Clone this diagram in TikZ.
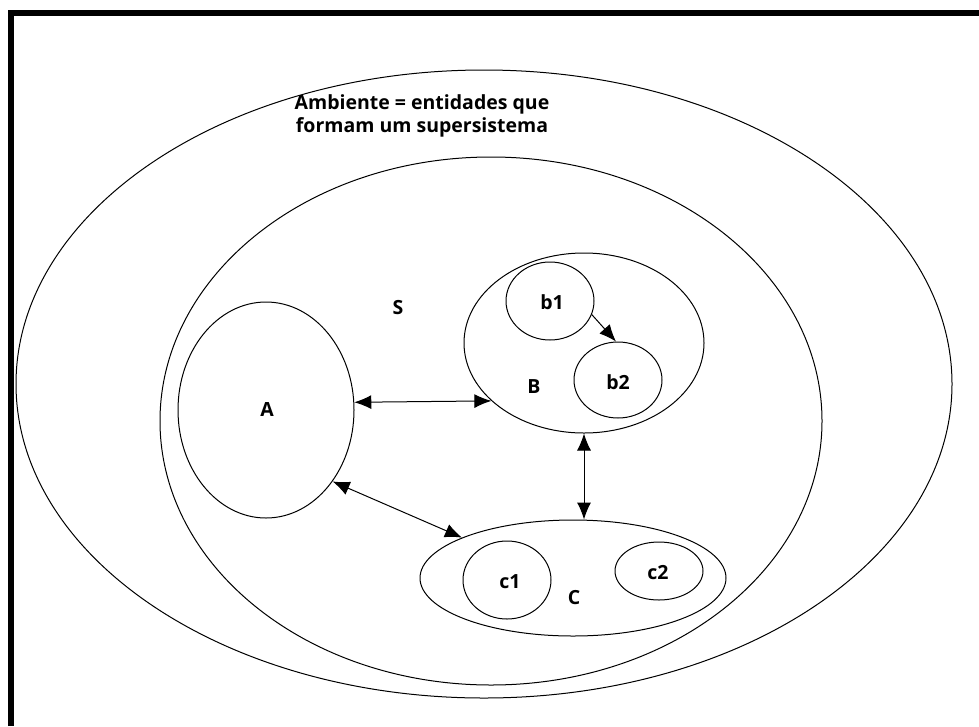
\documentclass[tikz,border=0pt]{standalone}
\usepackage{fontspec}
\setmainfont{Open Sans}
\usetikzlibrary{shapes.geometric,arrows.meta}
\begin{document}
\begin{tikzpicture}[x=1pt,y=-1pt,
  set/.style={draw, ellipse, inner sep=0pt, line width=1pt},
  lbl/.style={font=\bfseries\fontsize{19.5}{23}\selectfont, inner sep=0pt},
  link/.style={line width=1pt, {Latex[length=17pt,width=14pt]}-{Latex[length=17pt,width=14pt]}},
  flow/.style={line width=1pt, -{Latex[length=17pt,width=14pt]}}
]
\useasboundingbox (0,0) rectangle (979,726);
\fill[white] (0,0) rectangle (979,726);
% open frame: top and left edges only
\draw[line width=6pt] (11,726) -- (11,12.5) -- (979,12.5);

% environment and system
\node[set, minimum width=936pt, minimum height=628pt] (env) at (484,384) {};
\node[set, minimum width=662pt, minimum height=528pt] (S) at (491,421) {};

% subsystems
\node[set, minimum width=176pt, minimum height=216pt] (A) at (266,410) {};
\node[set, minimum width=240pt, minimum height=180pt] (B) at (584,343) {};
\node[set, minimum width=88pt, minimum height=78pt] (b1) at (550,301) {};
\node[set, minimum width=88pt, minimum height=76pt] (b2) at (618,380) {};
\node[set, minimum width=306pt, minimum height=116pt] (C) at (573,578) {};
\node[set, minimum width=88pt, minimum height=78pt] (c1) at (507,580) {};
\node[set, minimum width=88pt, minimum height=58pt] (c2) at (659,571) {};

% labels
\node[lbl, align=center] (title) at (422,116) {Ambiente = entidades que\\formam um supersistema};
\node[lbl] (labS) at (398,308) {S};
\node[lbl] (labA) at (267,410) {A};
\node[lbl] (labB) at (534,387) {B};
\node[lbl] (labb1) at (552,302) {b1};
\node[lbl] (labb2) at (618,382) {b2};
\node[lbl] (labC) at (574,598) {C};
\node[lbl] (labc1) at (510,582) {c1};
\node[lbl] (labc2) at (658,573) {c2};

% interactions
\draw[link] (A.5) -- (B.212.7);
\draw[link] (B.south) -- (B.south |- C.north);
\draw[link] (A.-47.5) -- (C.160.5);
\draw[flow] (b1.-18) -- (b2.93);
\end{tikzpicture}
\end{document}
